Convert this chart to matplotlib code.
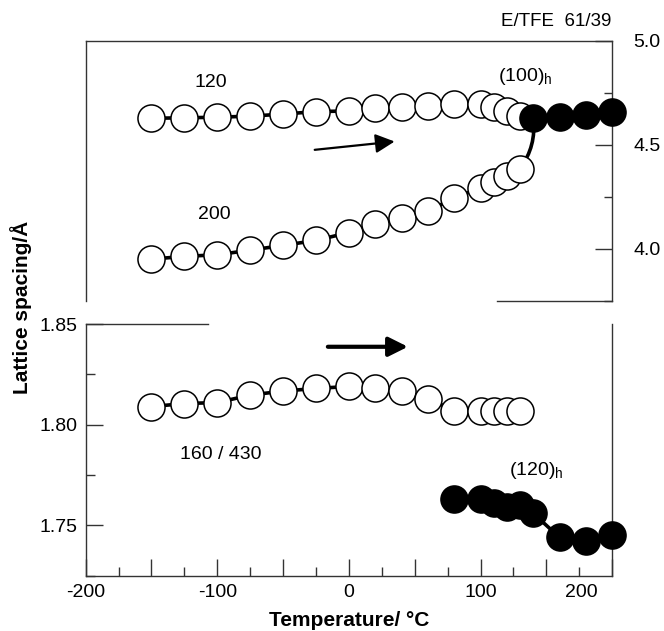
import matplotlib
matplotlib.use('Agg')
import matplotlib.pyplot as plt
from matplotlib.ticker import MultipleLocator

plt.rcParams['font.family'] = ['Liberation Sans', 'DejaVu Sans']
plt.rcParams['mathtext.fontset'] = 'custom'
plt.rcParams['mathtext.rm'] = 'Liberation Sans'

# Temperatures (deg C)
temp_open = [-150, -125, -100, -75, -50, -25, 0, 20, 40, 60, 80, 100, 110, 120, 130]
temp_hex_100 = [140, 160, 180, 200]
temp_hex_120 = [80, 100, 110, 120, 130, 140, 160, 180, 200]

# (120) reflection, orthorhombic (top panel, upper)
d_120 = [4.628, 4.630, 4.633, 4.638, 4.648, 4.660, 4.663, 4.676, 4.684, 4.688,
         4.697, 4.695, 4.684, 4.664, 4.640]
# (200) reflection (top panel, lower)
d_200 = [3.950, 3.963, 3.971, 3.993, 4.016, 4.040, 4.078, 4.117, 4.149, 4.180,
         4.245, 4.292, 4.322, 4.350, 4.386]
# (100)h hexagonal
d_100h = [4.628, 4.636, 4.645, 4.660]
# 160/430 reflection (bottom panel, open)
d_160 = [1.809, 1.8105, 1.811, 1.8147, 1.8167, 1.818, 1.819, 1.818, 1.8168, 1.813,
         1.807, 1.807, 1.807, 1.807, 1.807]
# (120)h hexagonal (bottom panel, filled)
d_120h = [1.763, 1.763, 1.761, 1.759, 1.760, 1.756, 1.744, 1.742, 1.745]

fig = plt.figure(figsize=(6.64, 6.31), dpi=100)
ax1 = fig.add_axes([0.129, 0.5235, 0.793, 0.4116])
ax2 = fig.add_axes([0.129, 0.0876, 0.793, 0.3989])

spine_col = '#333333'
ms = 19.5
open_kw = dict(marker='o', ms=ms, mfc='white', mec='black', mew=1.1,
               color='black', lw=2.6, clip_on=False)
fill_kw = dict(marker='o', ms=ms, mfc='black', mec='black', mew=1.1,
               color='black', lw=2.6, clip_on=False)

# ---- top panel ----
# curved link from the last (200) point to the first hexagonal point
ax1.annotate('', xy=(temp_hex_100[0], d_100h[0]), xytext=(temp_open[-1], d_200[-1]),
             arrowprops=dict(arrowstyle='-', lw=2.6, color='black',
                             connectionstyle='arc3,rad=0.2', shrinkA=0, shrinkB=0),
             zorder=2)
ax1.plot(temp_open, d_120, zorder=3, **open_kw)
ax1.plot(temp_open, d_200, zorder=3, **open_kw)
ax1.plot(temp_hex_100, d_100h, zorder=4, **fill_kw)
ax1.set_xlim(-200, 200)
ax1.set_ylim(3.75, 5.0)
for s in ax1.spines.values():
    s.set_color(spine_col)
    s.set_linewidth(1.0)
ax1.spines['bottom'].set_bounds(112.6, 200)
ax1.set_xticks([])
ax1.yaxis.tick_right()
ax1.set_yticks([4.0, 4.5, 5.0])
ax1.set_yticklabels(['4.0', '4.5', '5.0'])
ax1.yaxis.set_minor_locator(MultipleLocator(0.25))
ax1.tick_params(axis='y', which='major', direction='in', length=12, width=1,
                color=spine_col, labelsize=14, pad=15)
ax1.tick_params(axis='y', which='minor', direction='in', length=6, width=1, color=spine_col)

ax1.text(-105, 4.798, '120', fontsize=14, ha='center', va='center')
ax1.text(-102, 4.163, '200', fontsize=14, ha='center', va='center')
ax1.text(113.5, 4.83, r'(100)$_\mathrm{h}$', fontsize=14, ha='left', va='center')
ax1.annotate('', xy=(34.7, 4.516), xytext=(-26, 4.476),
             arrowprops=dict(arrowstyle='-|>', lw=1.6, color='black',
                             mutation_scale=29, shrinkA=0, shrinkB=0))
fig.text(0.837, 0.966, 'E/TFE  61/39', fontsize=13.5, ha='center', va='center')

# ---- bottom panel ----
ax2.plot(temp_open, d_160, zorder=3, **open_kw)
ax2.plot(temp_hex_120, d_120h, zorder=4, **fill_kw)
ax2.set_xlim(-200, 200)
ax2.set_ylim(1.725, 1.85)
for s in ax2.spines.values():
    s.set_color(spine_col)
    s.set_linewidth(1.0)
ax2.spines['top'].set_bounds(-200, -107.3)
ax2.set_xticks(range(-200, 201, 50))
ax2.set_xticklabels(['-200', '', '-100', '', '0', '', '100', '', ''])
ax2.xaxis.set_minor_locator(MultipleLocator(25))
ax2.tick_params(axis='x', which='major', direction='in', length=12, width=1,
                color=spine_col, labelsize=14, pad=6, top=False)
ax2.tick_params(axis='x', which='minor', direction='in', length=6.5, width=1,
                color=spine_col, top=False)
ax2.set_yticks([1.75, 1.80, 1.85])
ax2.set_yticklabels(['1.75', '1.80', '1.85'])
ax2.yaxis.set_minor_locator(MultipleLocator(0.025))
ax2.tick_params(axis='y', which='major', direction='in', length=12, width=1,
                color=spine_col, labelsize=14, pad=6, right=False)
ax2.tick_params(axis='y', which='minor', direction='in', length=6.5, width=1,
                color=spine_col, right=False)
# the "200" label sits left of its tick in the original
ax2.annotate('200', xy=(200, 0), xycoords=('data', 'axes fraction'),
             xytext=(-22.5, -6), textcoords='offset points',
             ha='center', va='top', fontsize=14)

ax2.text(-97, 1.7853, '160 / 430', fontsize=14, ha='center', va='center')
ax2.text(121.5, 1.7774, r'(120)$_\mathrm{h}$', fontsize=14, ha='left', va='center')
ax2.annotate('', xy=(44.8, 1.8387), xytext=(-16, 1.8387),
             arrowprops=dict(arrowstyle='-|>', lw=3.0, color='black',
                             mutation_scale=29, shrinkA=0, shrinkB=0))

ax2.set_xlabel('Temperature/ °C', fontsize=15, fontweight='bold', labelpad=7)
fig.text(0.032, 0.513, 'Lattice spacing/Å', fontsize=15, fontweight='bold',
         rotation=90, ha='center', va='center')

fig.savefig('out.png', dpi=100)
